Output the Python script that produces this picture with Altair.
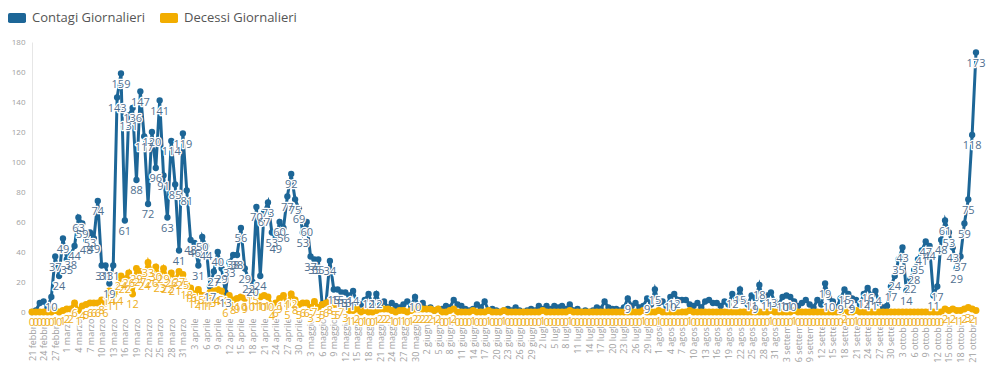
import json
import pandas as pd
import altair as alt

start_date = "2020-02-21"
mesi = ["gennaio", "febbraio", "marzo", "aprile", "maggio", "giugno", "luglio",
        "agosto", "settembre", "ottobre", "novembre", "dicembre"]

contagi = [
    0, 1, 6, 7, 3, 10, 37, 24, 49, 35,
    38, 44, 63, 59, 48, 53, 49, 74, 31, 31,
    19, 31, 143, 159, 61, 131, 136, 88, 147, 117,
    72, 120, 96, 141, 91, 63, 114, 85, 41, 119,
    81, 48, 46, 31, 50, 44, 17, 27, 40, 29,
    13, 33, 38, 38, 56, 29, 22, 20, 70, 24,
    67, 73, 53, 49, 60, 56, 77, 92, 75, 69,
    53, 60, 37, 35, 35, 5, 6, 34, 15, 15,
    13, 13, 11, 14, 6, 5, 8, 12, 5, 12,
    5, 7, 3, 6, 4, 3, 5, 7, 4, 10,
    3, 6, 2, 3, 1, 2, 2, 4, 3, 8,
    5, 4, 2, 1, 2, 5, 3, 7, 1, 2,
    1, 0, 1, 2, 1, 3, 1, 0, 1, 2,
    1, 4, 2, 4, 2, 4, 3, 4, 2, 5,
    1, 2, 0, 1, 0, 1, 3, 2, 7, 3,
    2, 2, 1, 3, 9, 4, 6, 3, 4, 9,
    5, 15, 6, 7, 4, 10, 12, 8, 8, 8,
    5, 4, 6, 3, 7, 8, 6, 6, 4, 7,
    5, 12, 8, 15, 7, 5, 11, 9, 18, 8,
    11, 13, 7, 5, 10, 11, 10, 7, 4, 6,
    8, 5, 3, 8, 5, 19, 10, 7, 3, 9,
    15, 12, 9, 8, 5, 12, 16, 11, 14, 6,
    3, 4, 17, 24, 35, 43, 14, 22, 28, 35,
    41, 47, 44, 11, 17, 48, 61, 53, 43, 29,
    37, 59, 75, 118, 173,
]

decessi = [
    0, 0, 0, 0, 0, 0, 1, 0, 1, 2,
    2, 6, 1, 4, 5, 6, 6, 6, 8, 6,
    14, 11, 14, 24, 22, 26, 12, 29, 27, 24,
    33, 26, 30, 23, 29, 22, 26, 21, 27, 25,
    18, 16, 12, 15, 11, 11, 13, 14, 15, 14,
    6, 11, 8, 9, 10, 9, 10, 15, 11, 10,
    11, 10, 4, 6, 9, 11, 5, 12, 8, 5,
    6, 6, 3, 7, 3, 5, 6, 8, 5, 5,
    7, 3, 1, 1, 2, 0, 1, 0, 0, 1,
    2, 2, 2, 1, 0, 1, 1, 0, 1, 2,
    2, 2, 2, 2, 1, 2, 0, 0, 1, 2,
    0, 0, 0, 0, 1, 0, 0, 0, 1, 0,
    0, 0, 1, 0, 0, 0, 0, 0, 0, 0,
    0, 0, 1, 0, 0, 0, 0, 0, 0, 1,
    0, 0, 0, 0, 0, 0, 0, 0, 0, 0,
    0, 0, 0, 0, 0, 0, 0, 0, 1, 0,
    0, 0, 1, 0, 0, 0, 0, 0, 0, 0,
    1, 0, 0, 0, 0, 0, 0, 0, 0, 0,
    0, 0, 0, 0, 0, 0, 0, 0, 0, 0,
    0, 1, 0, 0, 0, 0, 0, 1, 0, 0,
    0, 0, 0, 0, 0, 0, 0, 0, 0, 0,
    2, 0, 0, 1, 0, 0, 0, 0, 0, 0,
    0, 0, 0, 0, 0, 0, 0, 0, 0, 0,
    0, 0, 0, 0, 0, 0, 2, 1, 2, 1,
    1, 2, 3, 2, 1,
]

SERIES = ["Contagi Giornalieri", "Decessi Giornalieri"]
COLORS = ["#1d6697", "#f2ad00"]
LABEL_COLORS = ["#4f6f90", "#eeae22"]

n = len(contagi)
dates = pd.date_range(start_date, periods=n, freq="D")
date_labels = [f"{d.day} {mesi[d.month - 1]}" for d in dates]

rows = []
for i in range(n):
    rows.append({"day": i, "value": contagi[i], "series": SERIES[0]})
    rows.append({"day": i, "value": decessi[i], "series": SERIES[1]})
df = pd.DataFrame(rows)

FONT = "Open Sans"

x = alt.X(
    "day:Q",
    scale=alt.Scale(domain=[0, n - 1], nice=False, zero=False),
    axis=alt.Axis(
        values=list(range(0, n, 3)),
        labelExpr=json.dumps(date_labels) + "[datum.value]",
        labelAngle=270, labelFontSize=9, labelColor="#a0a0a0", labelFont=FONT,
        labelLimit=46, labelPadding=6, labelOverlap=False, labelFlush=False,
        grid=False, domain=False, ticks=False, title=None,
    ),
)
y = alt.Y(
    "value:Q",
    scale=alt.Scale(domain=[0, 180], nice=False),
    axis=alt.Axis(
        values=list(range(0, 181, 20)), labelFontSize=8, labelColor="#a0a0a0",
        labelFont=FONT, grid=False, ticks=False, domainColor="#e6e6e6",
        title=None, labelPadding=7,
    ),
)

legend = alt.Legend(
    title=None, orient="none", legendX=-24, legendY=-33, direction="horizontal",
    symbolType="M-0.8,-0.55L0.8,-0.55Q1,-0.55 1,-0.35L1,0.35Q1,0.55 0.8,0.55L-0.8,0.55Q-1,0.55 -1,0.35L-1,-0.35Q-1,-0.55 -0.8,-0.55Z",
    symbolSize=324, symbolStrokeWidth=0, symbolOpacity=1,
    labelFontSize=13, labelColor="#555555", labelFont=FONT,
    columnPadding=14, labelOffset=6,
)
color = alt.Color("series:N", scale=alt.Scale(domain=SERIES, range=COLORS), legend=legend)

base = alt.Chart(df).encode(x=x, y=y)
blue = base.transform_filter(alt.datum.series == SERIES[0])
orange = base.transform_filter(alt.datum.series == SERIES[1])

line_b = blue.mark_line(color=COLORS[0], strokeWidth=3)
pts_b = blue.mark_circle(size=40, opacity=1).encode(color=color)
line_o = orange.mark_line(color=COLORS[1], strokeWidth=3.5)
pts_o = orange.mark_circle(size=48, opacity=1).encode(color=color)

lab_b = blue.transform_filter(alt.datum.value >= 9)
halo_b = lab_b.mark_text(dy=11, fontSize=11, font=FONT, fill="white", stroke="white",
                         strokeWidth=2.5, strokeJoin="round").encode(text="value:Q")
txt_b = lab_b.mark_text(dy=11, fontSize=11, font=FONT, color=LABEL_COLORS[0]).encode(text="value:Q")
halo_o = orange.mark_text(dy=11, fontSize=11, font=FONT, fill="white", stroke="white",
                          strokeWidth=2.5, strokeJoin="round").encode(text="value:Q")
txt_o = orange.mark_text(dy=11, fontSize=11, font=FONT, color=LABEL_COLORS[1]).encode(text="value:Q")

chart = alt.layer(
    line_b, pts_b, line_o, pts_o, halo_o, txt_o, halo_b, txt_b
).properties(
    width=944, height=270,
    autosize=alt.AutoSizeParams(type="none"),
    padding={"left": 24, "top": 34, "right": 10, "bottom": 60},
).configure_view(stroke=None)

chart.save("out.html", embed_options={"renderer": "svg", "actions": False})
